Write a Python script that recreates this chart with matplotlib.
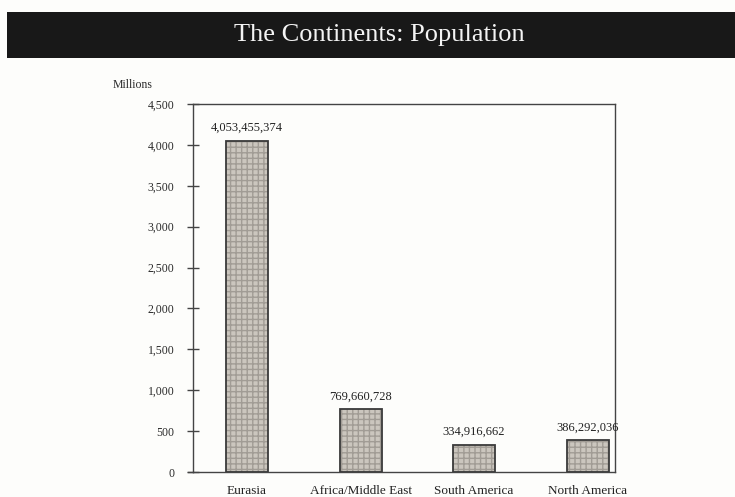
import matplotlib.pyplot as plt
from matplotlib.patches import Rectangle

# data (millions)
continents = ['Eurasia', 'Africa/Middle East', 'South America', 'North America']
population = [4053.455374, 769.660728, 334.916662, 386.292036]
value_labels = ['4,053,455,374', '769,660,728', '334,916,662', '386,292,036']
yticks = [0, 500, 1000, 1500, 2000, 2500, 3000, 3500, 4000, 4500]
ytick_labels = ['0', '500', '1,000', '1,500', '2,000', '2,500', '3,000', '3,500', '4,000', '4,500']

plt.rcParams['font.family'] = ['Liberation Serif', 'DejaVu Serif']

fig = plt.figure(figsize=(7.35, 4.97), dpi=100)
fig.patch.set_facecolor('#fdfdfb')

# black title banner
fig.patches.append(Rectangle((0.0095, 0.8833), 0.995, 0.0926, transform=fig.transFigure,
                             facecolor='#181818', edgecolor='none'))
fig.text(0.516, 0.929, 'The Continents: Population', color='#f4f4f4', fontsize=19,
         ha='center', va='center')

ax = fig.add_axes([0.2626, 0.0503, 0.574, 0.7404])
ax.set_facecolor('#fdfdfb')

x = range(len(continents))
# hatched fill, then outline
ax.bar(x, population, width=0.37, color='#cbc6be', hatch='+++', edgecolor='#a19c95',
       linewidth=0, zorder=2)
ax.bar(x, population, width=0.37, fill=False, edgecolor='#3a3a3a', linewidth=1.3, zorder=3)

for xi, v, lab in zip(x, population, value_labels):
    ax.text(xi, v + 80, lab, ha='center', va='bottom', fontsize=9, color='#222222')

ax.set_xlim(-0.475, 3.24)
ax.set_ylim(0, 4500)
ax.set_yticks(yticks)
ax.set_yticklabels(ytick_labels, fontsize=8.5, color='#2a2a2a')
ax.set_xticks(list(x))
ax.set_xticklabels(continents, fontsize=9.5, color='#222222')
ax.tick_params(axis='x', length=0, pad=9)
ax.tick_params(axis='y', direction='inout', length=9, width=1, color='#444444', pad=9)

for s in ax.spines.values():
    s.set_color('#444444')
    s.set_linewidth(1)

# baseline sticks out a little left of the y axis
ax.plot([-0.52, -0.475], [0, 0], color='#444444', linewidth=1, clip_on=False)

ax.text(-0.143, 1.035, 'Millions', transform=ax.transAxes, fontsize=8.5, color='#2a2a2a',
        ha='center', va='bottom')

fig.savefig('out.png', dpi=100, facecolor=fig.get_facecolor())
